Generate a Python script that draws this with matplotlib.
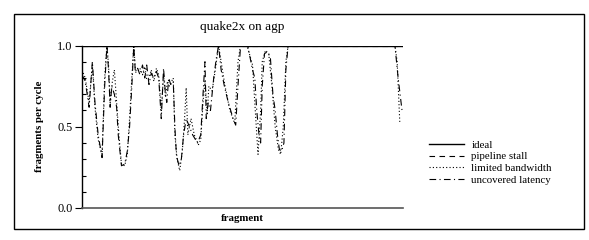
import matplotlib
matplotlib.use("Agg")
import matplotlib.pyplot as plt
from matplotlib.patches import Rectangle
from matplotlib.ticker import MultipleLocator, FixedLocator

plt.rcParams['font.family'] = ['Liberation Serif', 'DejaVu Serif']

title = "quake2x on agp"
xlabel = "fragment"
ylabel = "fragments per cycle"
series_names = ["ideal", "pipeline stall", "limited bandwidth", "uncovered latency"]
yticks = [0.0, 0.5, 1.0]
ytick_labels = ["0.0", "0.5", "1.0"]

ideal_x = [0, 992]
ideal_y = [1.0, 1.0]
stall_x = [0, 992]
stall_y = [1.0, 1.0]

latency_x = [0, 10, 22, 32, 40, 50, 62, 70, 77, 82, 87, 92, 100, 107, 112, 122, 132, 140, 147, 154,
             160, 165, 172, 179, 187, 194, 200, 207, 214, 222, 230, 237, 245, 252, 258, 262, 268, 274,
             282, 287, 292, 300, 307, 314, 322, 332, 342, 357, 367, 374, 380, 384, 390, 397, 407, 415,
             422, 430, 440, 452, 467, 475, 482, 490, 512, 527, 534, 540, 547, 552, 557, 564, 572, 582,
             590, 597, 604, 610, 617, 624, 630, 637, 967, 977, 989]
latency_y = [.82, .78, .62, .90, .65, .45, .31, .75, 1.0, .85, .62, .75, .70, .62, .45, .26, .27, .35, .5, .75,
             1.0, .83, .86, .82, .88, .80, .88, .76, .83, .80, .84, .80, .55, .86, .70, .65, .80, .76,
             .78, .5, .32, .26, .30, .45, .55, .50, .45, .40, .45, .70, .90, .55, .65, .60, .80, .92,
             1.0, .85, .75, .65, .55, .51, .75, 1.0, 1.0, .85, .80, .60, .45, .40, .75, .95, .96, .93,
             .70, .60, .45, .36, .35, .40, .85, 1.0, 1.0, .80, .60]

bandwidth_x = [0, 10, 22, 32, 40, 50, 62, 70, 77, 82, 87, 94, 100, 107, 114, 122, 132, 140, 147, 154,
               160, 165, 172, 179, 187, 194, 200, 207, 214, 222, 230, 237, 245, 252, 258, 264, 270, 282,
               287, 294, 302, 310, 317, 322, 327, 337, 347, 360, 367, 374, 380, 387, 392, 402, 412, 422,
               430, 442, 457, 472, 482, 490, 510, 527, 537, 544, 552, 557, 567, 577, 587, 597, 607, 614,
               622, 630, 637, 967, 974, 982]
bandwidth_y = [.85, .80, .65, .88, .62, .42, .33, .80, 1.0, .88, .65, .78, .85, .65, .45, .27, .26, .33, .55, .80,
               1.0, .85, .84, .86, .82, .87, .79, .80, .85, .78, .86, .82, .60, .82, .68, .78, .75, .80,
               .45, .30, .23, .35, .55, .74, .45, .55, .45, .39, .42, .65, .78, .58, .75, .72, .85, 1.0,
               .90, .75, .60, .52, .90, 1.0, 1.0, .88, .55, .33, .60, .90, .97, .95, .75, .50, .36, .33,
               .50, .90, 1.0, 1.0, .90, .53]

W, H = 589, 240
fig = plt.figure(figsize=(W / 100, H / 100), dpi=100)
fig.patch.set_facecolor('white')
fig.add_artist(Rectangle((14 / W, 1 - 229 / H), (584 - 14) / W, (229 - 14) / H,
                         transform=fig.transFigure, fill=False, edgecolor='black', linewidth=1.0))

ax = fig.add_axes([82 / W, 1 - 208 / H, (403 - 82) / W, (208 - 45.5) / H])
lw = 0.8
ax.plot(ideal_x, ideal_y, color='black', linewidth=1.0, linestyle='-', label=series_names[0])
ax.plot(stall_x, stall_y, color='black', linewidth=lw, linestyle=(0, (5, 4)), label=series_names[1])
ax.plot(bandwidth_x, bandwidth_y, color='black', linewidth=lw, linestyle=(0, (1, 2)), label=series_names[2])
ax.plot(latency_x, latency_y, color='black', linewidth=lw, linestyle=(0, (6, 3, 1, 3)), label=series_names[3])

ax.set_xlim(0, 992)
ax.set_ylim(0, 1.0)
for s in ['top', 'right']:
    ax.spines[s].set_visible(False)
ax.spines['left'].set_linewidth(1.0)
ax.spines['bottom'].set_linewidth(1.2)
ax.spines['bottom'].set_color('#555555')
ax.set_xticks([])
ax.yaxis.set_major_locator(FixedLocator(yticks))
ax.set_yticklabels(ytick_labels, fontsize=8.8)
ax.yaxis.set_minor_locator(MultipleLocator(0.1))
ax.tick_params(axis='y', which='major', direction='out', length=5, width=0.8, pad=2)
ax.tick_params(axis='y', which='minor', direction='in', length=3, width=0.8)

ax.set_title(title, fontsize=9.5, pad=11)
ax.set_xlabel(xlabel, fontsize=7.8, fontweight='bold', labelpad=4)
ax.set_ylabel(ylabel, fontsize=7.8, fontweight='bold', labelpad=9)

leg = ax.legend(loc='upper left', bbox_to_anchor=(429 / W, 1 - 140 / H), bbox_transform=fig.transFigure,
                frameon=False, fontsize=7.8, handlelength=3.2, handletextpad=0.7, labelspacing=0.2,
                borderpad=0, borderaxespad=0)

fig.savefig("out.png", dpi=100)
